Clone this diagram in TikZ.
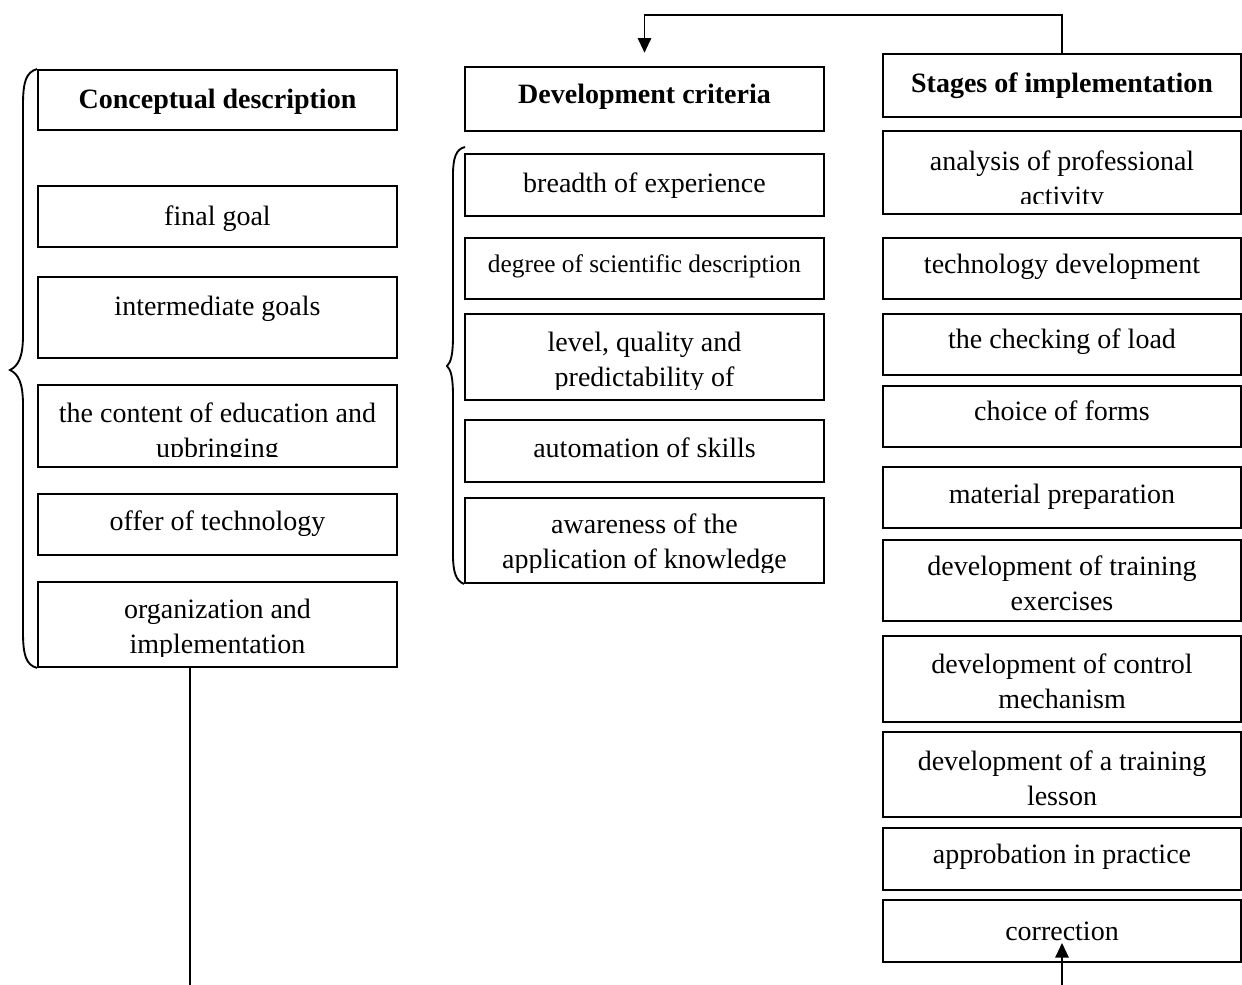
\documentclass[tikz,border=0pt]{standalone}
\usepackage{fontspec}
\setmainfont{Liberation Serif}
\usetikzlibrary{fit,arrows.meta}

\begin{document}
\begin{tikzpicture}[x=0.75pt,y=-0.75pt,
  box/.style={draw, line width=1.4pt, inner sep=0pt},
  lbl/.style={anchor=base, align=center, inner sep=0pt, font=\fontsize{21}{26.25}\selectfont},
  arr/.style={line width=1.4pt, -{Triangle[length=11pt,width=10pt]}}]
\useasboundingbox (0,0) rectangle (1242,985);

% conceptual description
\foreach \nm/\ya/\yb/\bl/\txt in {
  cd/70/130/108/{\bfseries Conceptual description},
  cfg/186/247/225/{final goal},
  cig/277/358/315/{intermediate goals},
  cce/385/467/457/{the content of education and\\upbringing},
  cot/494/555/530/{offer of technology},
  coi/582/667/653/{organization and\\implementation}}{
  \node[box, fit={(38,\ya) (397,\yb)}] (\nm) {};
  \begin{scope}
    \clip (38,\ya) rectangle (397,\yb-11);
    \node[lbl] (\nm-t) at (217.5,\bl) {\txt};
  \end{scope}
}

% development criteria
\foreach \nm/\ya/\yb/\bl/\txt in {
  dc/67/131/103/{\bfseries Development criteria},
  mbe/154/216/192/{breadth of experience},
  mds/238/299/272/{\fontsize{19}{24}\selectfont degree of scientific description},
  mlq/314/400/386/{level, quality and\\predictability of},
  mas/420/482/457/{automation of skills},
  mak/498/583/568/{awareness of the\\application of knowledge}}{
  \node[box, fit={(465,\ya) (824,\yb)}] (\nm) {};
  \begin{scope}
    \clip (465,\ya) rectangle (824,\yb-11);
    \node[lbl] (\nm-t) at (644.5,\bl) {\txt};
  \end{scope}
}

% stages of implementation
\foreach \nm/\ya/\yb/\bl/\txt in {
  sip/54/117/92/{\bfseries Stages of implementation},
  rpa/131/214/205/{analysis of professional\\activity},
  rtd/238/299/273/{technology development},
  rcl/314/375/348/{the checking of load},
  rcf/386/447/420/{choice of forms},
  rmp/467/528/503/{material preparation},
  rte/540/621/610/{development of training\\exercises},
  rcm/636/722/708/{development of control\\mechanism},
  rtl/732/817/805/{development of a training\\lesson},
  rap/828/890/863/{approbation in practice},
  rco/900/962/940/{correction}}{
  \node[box, fit={(883,\ya) (1241,\yb)}] (\nm) {};
  \begin{scope}
    \clip (883,\ya) rectangle (1241,\yb-11);
    \node[lbl] (\nm-t) at (1062,\bl) {\txt};
  \end{scope}
}

% braces
\draw[line width=1.4pt] (cd.north west) .. controls (26,72) and (23,82) .. (23,105) -- (23,335)
  .. controls (23,358) and (18,366) .. (10,370) .. controls (18,374) and (23,382) .. (23,405)
  -- (23,632) .. controls (23,655) and (26,665) .. (coi.south west);
\draw[line width=1.4pt] (465,147) .. controls (456,149) and (453,158) .. (453,175) -- (453,335)
  .. controls (453,355) and (451,362) .. (447,366) .. controls (451,370) and (453,377) .. (453,397)
  -- (453,555) .. controls (453,572) and (456,581) .. (mak.south west);

% connectors
\draw[arr, shorten >=10pt] (sip.north) -- ++(0,-38) -| (dc.north);
\coordinate (bin) at (1062,985);
\draw[arr] (bin) -- ([yshift=15pt]rco.south);
\coordinate (lout) at (190,985);
\draw[line width=1.4pt] (coi.south -| lout) -- (lout);
\end{tikzpicture}
\end{document}
